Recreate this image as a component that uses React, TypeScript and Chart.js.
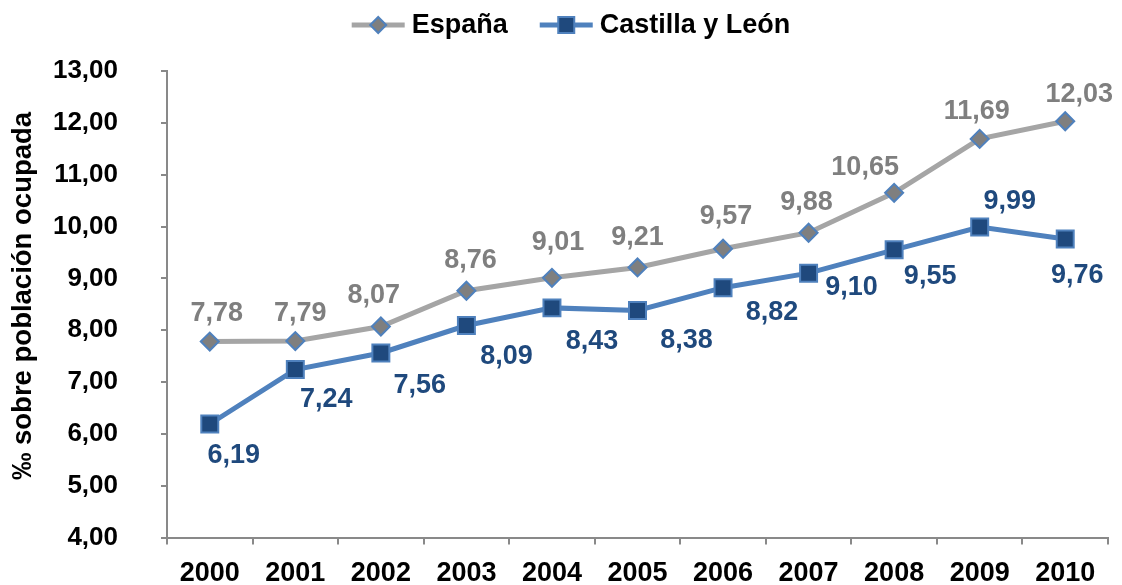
import { useEffect, useRef } from "react";
import { Chart, registerables } from "chart.js";

Chart.register(...registerables);

const years = ["2000", "2001", "2002", "2003", "2004", "2005", "2006", "2007", "2008", "2009", "2010"];
const seriesNames = ["España", "Castilla y León"];
const espana = [7.78, 7.79, 8.07, 8.76, 9.01, 9.21, 9.57, 9.88, 10.65, 11.69, 12.03];
const castilla = [6.19, 7.24, 7.56, 8.09, 8.43, 8.38, 8.82, 9.1, 9.55, 9.99, 9.76];
const yMin = 4;
const yMax = 13;
const yStep = 1;
const yTitle = "‰ sobre población ocupada";

// label placement (offset from point, px)
const espanaLabelOffsets = [
  [7, -28], [5, -28], [-7, -31], [4, -30], [6, -35], [0, -30], [3, -32], [-2, -30], [-29, -25], [-3, -27], [14, -27],
];
const castillaLabelOffsets = [
  [24, 32], [31, 30], [39, 33], [40, 31], [40, 34], [49, 30], [49, 25], [43, 14], [36, 27], [30, -25], [12, 37],
];

const FONT = '"Liberation Sans", Arial, sans-serif';
const fmt = (v: number) => v.toFixed(2).replace(".", ",");

const dataLabelPlugin = {
  id: "dataLabels",
  afterDatasetsDraw(chart: any) {
    const ctx = chart.ctx;
    chart.data.datasets.forEach((ds: any, i: number) => {
      const meta = chart.getDatasetMeta(i);
      meta.data.forEach((pt: any, j: number) => {
        const off = ds.labelOffsets[j];
        ctx.save();
        ctx.font = `bold 27px ${FONT}`;
        ctx.fillStyle = ds.labelColor;
        ctx.textAlign = "center";
        ctx.textBaseline = "middle";
        ctx.fillText(fmt(ds.data[j]), pt.x + off[0], pt.y + off[1]);
        ctx.restore();
      });
    });
  },
};

const yTitlePlugin = {
  id: "yTitle",
  afterDraw(chart: any) {
    const ctx = chart.ctx;
    ctx.save();
    ctx.translate(23, 296);
    ctx.rotate(-Math.PI / 2);
    ctx.font = `bold 27.5px ${FONT}`;
    ctx.fillStyle = "#000000";
    ctx.textAlign = "center";
    ctx.textBaseline = "middle";
    ctx.fillText(yTitle, 0, 0);
    ctx.restore();
  },
};

const legendPlugin = {
  id: "customLegend",
  afterDraw(chart: any) {
    const ctx = chart.ctx;
    const y = 25;
    const lineLen = 53;
    const gapText = 7;
    const gapItems = 32;
    ctx.save();
    ctx.font = `bold 27px ${FONT}`;
    const items = chart.data.datasets.map((ds: any) => ({
      ds,
      w: lineLen + gapText + ctx.measureText(ds.label).width,
    }));
    const total = items.reduce((s: number, it: any) => s + it.w, 0) + gapItems * (items.length - 1);
    let x = chart.width / 2 + 10 - total / 2;
    items.forEach((it: any) => {
      const ds = it.ds;
      ctx.strokeStyle = ds.borderColor;
      ctx.lineWidth = 5;
      ctx.beginPath();
      ctx.moveTo(x, y);
      ctx.lineTo(x + lineLen, y);
      ctx.stroke();
      const cx = x + lineLen / 2;
      ctx.fillStyle = ds.pointBackgroundColor;
      ctx.strokeStyle = ds.pointBorderColor;
      ctx.lineWidth = 2;
      ctx.beginPath();
      if (ds.pointStyle === "rectRot") {
        const r = 8;
        ctx.moveTo(cx, y - r);
        ctx.lineTo(cx + r, y);
        ctx.lineTo(cx, y + r);
        ctx.lineTo(cx - r, y);
        ctx.closePath();
      } else {
        const s = 8;
        ctx.rect(cx - s, y - s, 2 * s, 2 * s);
      }
      ctx.fill();
      ctx.stroke();
      ctx.fillStyle = "#000000";
      ctx.textAlign = "left";
      ctx.textBaseline = "middle";
      ctx.fillText(ds.label, x + lineLen + gapText, y + 1);
      x += it.w + gapItems;
    });
    ctx.restore();
  },
};

export default function App() {
  const ref = useRef<HTMLCanvasElement | null>(null);

  useEffect(() => {
    document.body.style.margin = "0";
    if (!ref.current) return;
    const axisColor = "#898989";
    const chart = new Chart(ref.current, {
      type: "line",
      data: {
        labels: years,
        datasets: [
          {
            label: seriesNames[0],
            data: espana,
            borderColor: "#A5A5A5",
            borderWidth: 5,
            pointStyle: "rectRot",
            pointRadius: 9,
            pointBackgroundColor: "#7F7F7F",
            pointBorderColor: "#4F81BD",
            pointBorderWidth: 2,
            tension: 0,
            labelOffsets: espanaLabelOffsets,
            labelColor: "#7F7F7F",
          } as any,
          {
            label: seriesNames[1],
            data: castilla,
            borderColor: "#4F81BD",
            borderWidth: 5,
            pointStyle: "rect",
            pointRadius: 12,
            pointBackgroundColor: "#1F497D",
            pointBorderColor: "#4F81BD",
            pointBorderWidth: 2,
            tension: 0,
            labelOffsets: castillaLabelOffsets,
            labelColor: "#1F497D",
          } as any,
        ],
      },
      options: {
        responsive: false,
        animation: false,
        layout: { padding: { top: 71, right: 12, left: 0, bottom: 0 } },
        plugins: {
          legend: { display: false },
          tooltip: { enabled: false },
          title: { display: false },
        },
        scales: {
          x: {
            type: "category",
            offset: true,
            grid: {
              offset: true,
              drawOnChartArea: false,
              drawTicks: true,
              tickLength: 7,
              color: axisColor,
              lineWidth: 2,
            },
            border: { display: true, color: axisColor, width: 2 },
            ticks: {
              color: "#000000",
              font: { family: FONT, size: 27, weight: "bold" },
              padding: 13,
              maxRotation: 0,
              autoSkip: false,
            },
            afterFit: (scale: any) => {
              scale.height = 47.5;
              scale.paddingLeft = 0;
              scale.paddingRight = 0;
            },
          },
          y: {
            min: yMin,
            max: yMax,
            grid: {
              drawOnChartArea: false,
              drawTicks: true,
              tickLength: 6,
              color: axisColor,
              lineWidth: 2,
            },
            border: { display: true, color: axisColor, width: 2 },
            ticks: {
              stepSize: yStep,
              color: "#000000",
              font: { family: FONT, size: 26, weight: "bold" },
              padding: 43,
              callback: (v: any) => fmt(Number(v)),
            },
            title: { display: false },
            afterFit: (scale: any) => {
              scale.width = 167;
              scale.paddingTop = 0;
              scale.paddingBottom = 0;
            },
          },
        },
      },
      plugins: [dataLabelPlugin, legendPlugin, yTitlePlugin],
    });
    return () => chart.destroy();
  }, []);

  return (
    <div style={{ position: "fixed", left: 0, top: 0, width: 1122, height: 585 }}>
      <canvas ref={ref} width={1122} height={585} />
    </div>
  );
}
